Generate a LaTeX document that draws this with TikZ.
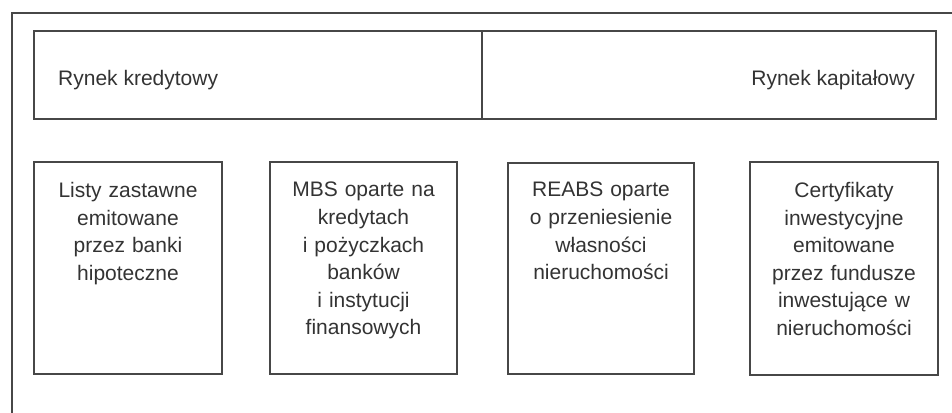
\documentclass[tikz,border=0pt]{standalone}
\usepackage{fontspec}
\setmainfont{Liberation Sans}
\begin{document}
\begin{tikzpicture}[x=1pt,y=-1pt,
  frame/.style={draw=black!72,line width=1.3pt},
  cell/.style={draw=black!72,line width=1.3pt,inner sep=0pt},
  lbl/.style={text=black!80,font=\fontsize{21}{27.6}\selectfont,inner sep=0pt},
  boxtext/.style={lbl,anchor=north,align=center,text width=180pt}]
  \useasboundingbox (0,0) rectangle (952,412);
  \clip (0,0) rectangle (952,412);
  % outer frame, running past the page edges
  \draw[frame] (12,430) -- (12,13) -- (970,13);
  % market bar
  \node[cell,minimum width=448pt,minimum height=88pt] (kred) at (258,75) {};
  \node[cell,minimum width=454pt,minimum height=88pt] (kap) at (709,75) {};
  \node[lbl,anchor=base west] (kredt) at (58,85) {Rynek kredytowy};
  \node[lbl,anchor=base east] (kapt) at (915,85) {Rynek kapitałowy};
  % instrument boxes
  \node[cell,minimum width=188pt,minimum height=212pt] (b1) at (128,268) {};
  \node[cell,minimum width=187pt,minimum height=212pt] (b2) at (363.5,268) {};
  \node[cell,minimum width=186pt,minimum height=211pt] (b3) at (601,268.5) {};
  \node[cell,minimum width=188pt,minimum height=213pt] (b4) at (844,268.5) {};
  \node[boxtext] (t1) at (128,182) {Listy zastawne\\emitowane\\przez banki\\hipoteczne};
  \node[boxtext] (t2) at (363.5,182) {MBS oparte na\\kredytach\\i pożyczkach\\banków\\i instytucji\\finansowych};
  \node[boxtext] (t3) at (601,182) {REABS oparte\\o przeniesienie\\własności\\nieruchomości};
  \node[boxtext] (t4) at (844,182) {Certyfikaty\\inwestycyjne\\emitowane\\przez fundusze\\inwestujące w\\nieruchomości};
\end{tikzpicture}
\end{document}
